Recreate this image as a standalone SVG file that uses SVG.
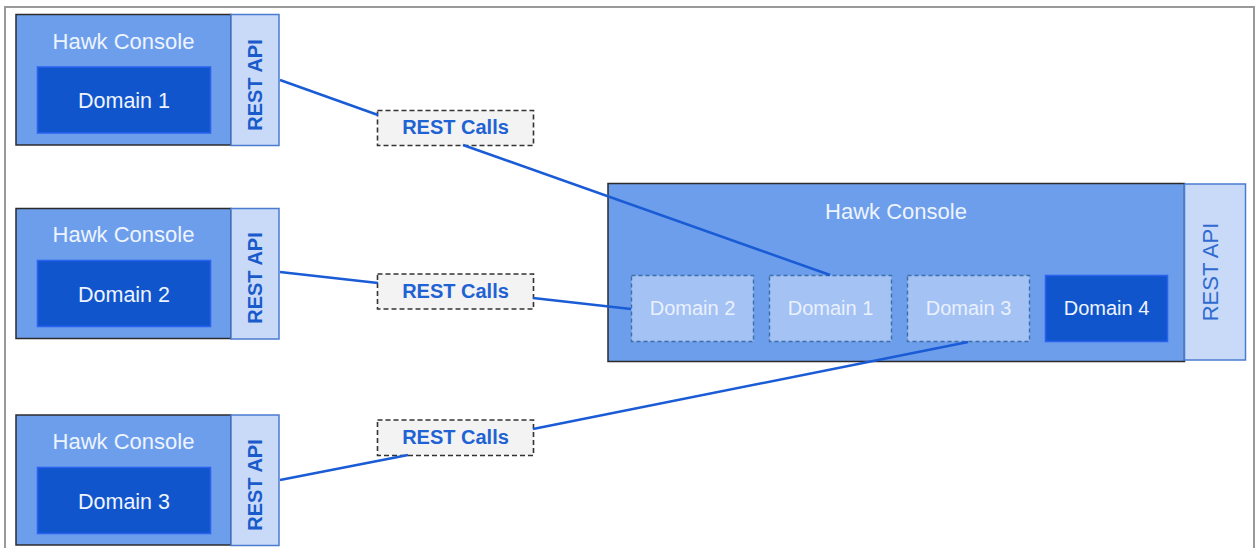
<svg xmlns="http://www.w3.org/2000/svg" width="1255" height="548" viewBox="0 0 1255 548">
<style>
.console{fill:#6d9eeb;stroke:#2b2b2b;stroke-width:1.5}
.api{fill:#c9daf8;stroke:#4a7bd0;stroke-width:1.5}
.dom{fill:#1155cc;stroke:#2a62f0;stroke-width:1.5}
.ghost{fill:#a4c2f4;stroke:#3d6fa8;stroke-width:1.4;stroke-dasharray:4 3}
.calls{fill:#f3f3f3;stroke:#333;stroke-width:1.6;stroke-dasharray:5 3}
.t{font-family:"Liberation Sans",Arial,sans-serif;text-anchor:middle}
.title{font-size:22px;fill:#eef4ff}
.dl{font-size:21.5px;fill:#eef4ff}
.dg{font-size:20px;fill:#eaf1fe}
.apit{font-size:20px;font-weight:bold;fill:#1a5bcc}
.apib{font-size:22px;fill:#2f6ad0}
.ct{font-size:20px;font-weight:bold;fill:#1f62d3}
.conn{stroke:#1a5bd6;stroke-width:2.5;fill:none}
</style>
<rect x="5" y="7" width="1249" height="560" fill="#fff" stroke="#999" stroke-width="2"/>
<g id="node1">
<rect class="console" x="16" y="14.5" width="215" height="130.5"/>
<rect class="api" x="231" y="14.5" width="48" height="131"/>
<text class="t title" x="123.5" y="48.5">Hawk Console</text>
<rect class="dom" x="37.5" y="67" width="173" height="66"/>
<text class="t dl" x="124" y="108">Domain 1</text>
<text class="t apit" transform="translate(262,85) rotate(-90)">REST API</text>
</g>
<g id="node2">
<rect class="console" x="16" y="208.5" width="215" height="130"/>
<rect class="api" x="231" y="208.5" width="48" height="130.5"/>
<text class="t title" x="123.5" y="242">Hawk Console</text>
<rect class="dom" x="37.5" y="260.5" width="173" height="66"/>
<text class="t dl" x="124" y="301.5">Domain 2</text>
<text class="t apit" transform="translate(262,278) rotate(-90)">REST API</text>
</g>
<g id="node3">
<rect class="console" x="16" y="415" width="215" height="130"/>
<rect class="api" x="231" y="415" width="48" height="130.5"/>
<text class="t title" x="123.5" y="448.5">Hawk Console</text>
<rect class="dom" x="37.5" y="467.5" width="173" height="66"/>
<text class="t dl" x="124" y="508.5">Domain 3</text>
<text class="t apit" transform="translate(262,485) rotate(-90)">REST API</text>
</g>
<g id="calls1">
<rect class="calls" x="377.5" y="110.5" width="156" height="35"/>
<text class="t ct" x="455.5" y="134">REST Calls</text>
</g>
<g id="calls2">
<rect class="calls" x="377.5" y="274" width="156" height="35"/>
<text class="t ct" x="455.5" y="297.5">REST Calls</text>
</g>
<g id="calls3">
<rect class="calls" x="377.5" y="420" width="156" height="35.5"/>
<text class="t ct" x="455.5" y="444">REST Calls</text>
</g>
<g id="bignode">
<rect class="console" x="608" y="183.5" width="576.5" height="178"/>
<rect class="api" x="1184.5" y="184" width="61" height="176"/>
<text class="t title" x="896" y="218.5">Hawk Console</text>
<text class="t apib" transform="translate(1217.5,272) rotate(-90)">REST API</text>
</g>
<g id="big-domain2">
<rect class="ghost" x="631.5" y="275.5" width="122" height="66"/>
<text class="t dg" x="692.5" y="315">Domain 2</text>
</g>
<g id="big-domain1">
<rect class="ghost" x="769.5" y="275.5" width="122" height="66"/>
<text class="t dg" x="830.5" y="315">Domain 1</text>
</g>
<g id="big-domain3">
<rect class="ghost" x="907.5" y="275.5" width="122" height="66"/>
<text class="t dg" x="968.5" y="315">Domain 3</text>
</g>
<g id="big-domain4">
<rect class="dom" x="1045.5" y="275.5" width="122" height="66"/>
<text class="t dg" x="1106.5" y="315" style="fill:#eef4ff">Domain 4</text>
</g>
<g id="connectors">
<line class="conn" x1="280" y1="80" x2="378" y2="115"/>
<line class="conn" x1="463" y1="145" x2="830" y2="275"/>
<line class="conn" x1="280" y1="272" x2="378" y2="283"/>
<line class="conn" x1="533" y1="298" x2="631" y2="309"/>
<line class="conn" x1="280" y1="480" x2="408" y2="455"/>
<line class="conn" x1="533" y1="429" x2="968" y2="342"/>
</g>
</svg>
